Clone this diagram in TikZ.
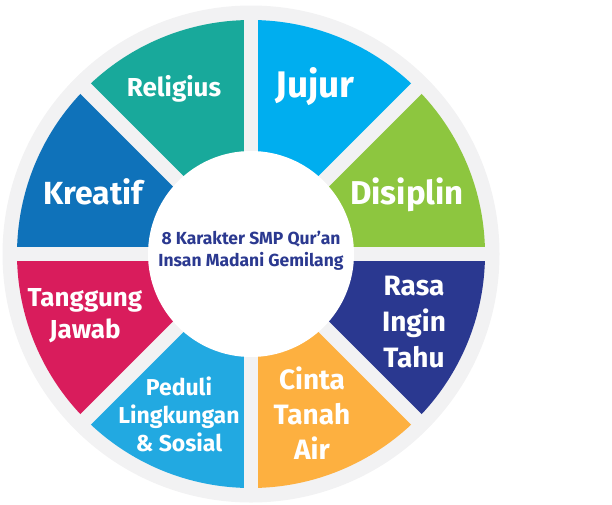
\documentclass[tikz,border=0pt]{standalone}
\usepackage{fontspec}
\setmainfont{Fira Sans}

\definecolor{ringgrey}{HTML}{F2F2F3}
\definecolor{navytext}{HTML}{2B3990}
\definecolor{jujurblue}{HTML}{00AEEF}
\definecolor{disiplingreen}{HTML}{8DC63F}
\definecolor{rasanavy}{HTML}{2A3890}
\definecolor{cintaorange}{HTML}{FDB040}
\definecolor{peduliblue}{HTML}{22A9E1}
\definecolor{tanggungred}{HTML}{D91C5C}
\definecolor{kreatifblue}{HTML}{0F72BA}
\definecolor{religiusteal}{HTML}{18A99B}

\tikzset{
  wedgetext/.style 2 args={text=white, font=\bfseries\fontsize{#1}{#2}\selectfont, align=center, inner sep=0pt},
  spoke/.style={draw=ringgrey, line width=14.6pt}
}

\begin{document}
\begin{tikzpicture}[x=1pt, y=-1pt]
  \useasboundingbox (0, 0) rectangle (612, 504);

  \coordinate (O) at (251, 254);

  \fill[ringgrey] (O) circle (248.5pt);

  \foreach \start/\col in {0/disiplingreen, 45/jujurblue, 90/religiusteal, 135/kreatifblue,
                           180/tanggungred, 225/peduliblue, 270/cintaorange, 315/rasanavy}
    \fill[\col] (O) -- ++(\start:234pt) arc[start angle=\start, delta angle=45, radius=234pt] -- cycle;

  \foreach \ang in {0, 45, ..., 315}
    \draw[spoke] (O) -- ++(\ang:240pt);

  \fill[white] (O) circle (103pt);

  \node[wedgetext={37}{37}] (jujur) at (315, 87) {Jujur};
  \node[wedgetext={33}{33}] (disiplin) at (407, 195) {Disiplin};
  \node[wedgetext={26}{26}] (religius) at (174, 89) {Religius};
  \node[wedgetext={32}{32}] (kreatif) at (93, 192) {Kreatif};

  \node[wedgetext={26}{32}] (tanggung) at (85, 316) {Tanggung\\Jawab};
  \node[wedgetext={23}{28}] (peduli) at (179, 414) {Peduli\\Lingkungan\\\& Sosial};
  \node[wedgetext={28}{35}] (cinta) at (312, 413) {Cinta\\Tanah\\Air};
  \node[wedgetext={28}{36}] (rasa) at (414, 322) {Rasa\\Ingin\\Tahu};

  \node[wedgetext={17.5}{22}, text=navytext] (judul) at (251, 251)
    {8 Karakter SMP Qur’an\\Insan Madani Gemilang};
\end{tikzpicture}
\end{document}
